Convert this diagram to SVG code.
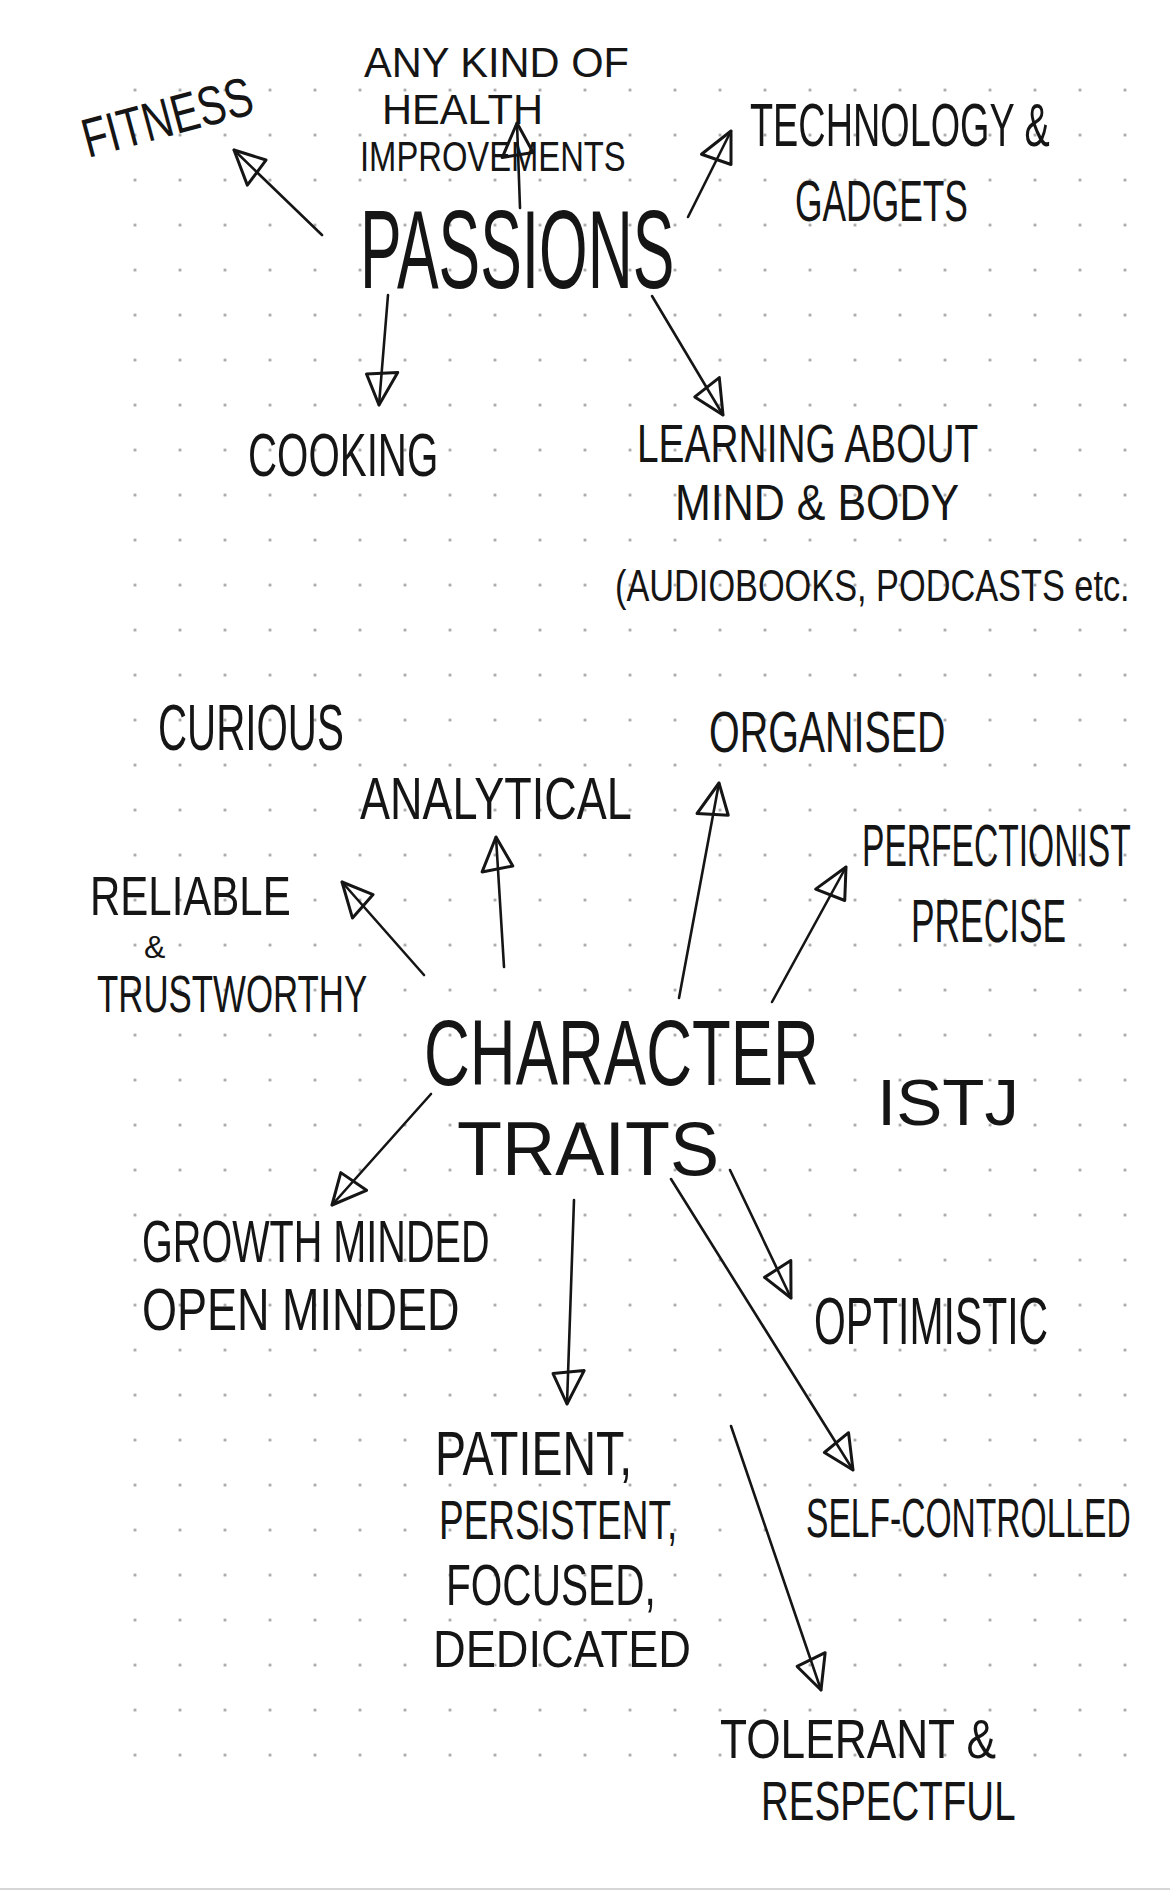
<svg xmlns="http://www.w3.org/2000/svg" width="1170" height="1890" viewBox="0 0 1170 1890">
<style>
text{font-family:"Liberation Sans",Arial,sans-serif;fill:#151515;}
.c line{stroke:#151515;stroke-width:2.6;stroke-linecap:round;marker-end:url(#head);}
</style>
<defs>
<pattern id="dots" x="112.5" y="67.5" width="45" height="45" patternUnits="userSpaceOnUse">
<circle cx="22.5" cy="22.5" r="1.5" fill="#9c9c9c"/>
</pattern>
<marker id="head" markerUnits="userSpaceOnUse" viewBox="-40 -22 44 44" markerWidth="44" markerHeight="44" refX="0" refY="0" orient="auto">
<path d="M0,0 L-34,-16 L-30,15 Z" fill="none" stroke="#151515" stroke-width="3" stroke-linejoin="round"/>
</marker>
</defs>
<rect width="1170" height="1890" fill="#ffffff"/>
<rect x="112.5" y="67.5" width="1035" height="1710" fill="url(#dots)"/>
<line x1="0" y1="1889" x2="1170" y2="1889" stroke="#d6d6d6" stroke-width="2"/>

<g class="c" id="connectors">
<line x1="322" y1="235" x2="234" y2="150"/>
<line x1="520" y1="208" x2="517" y2="123"/>
<line x1="688" y1="217" x2="731" y2="131"/>
<line x1="388" y1="295" x2="379" y2="405"/>
<line x1="652" y1="296" x2="723" y2="415"/>
<line x1="504" y1="967" x2="496" y2="837"/>
<line x1="679" y1="998" x2="719" y2="783"/>
<line x1="772" y1="1002" x2="846" y2="867"/>
<line x1="424" y1="975" x2="342" y2="882"/>
<line x1="431" y1="1094" x2="332" y2="1205"/>
<line x1="574" y1="1200" x2="567" y2="1404"/>
<line x1="730" y1="1170" x2="791" y2="1298"/>
<line x1="671" y1="1179" x2="853" y2="1470"/>
<line x1="731" y1="1426" x2="821" y2="1690"/>
</g>

<g id="passions"><text transform="translate(360,288) scale(0.557,1)" font-size="112">PASSIONS</text></g>
<g id="fitness"><text transform="translate(88,158) rotate(-15) scale(0.75,1)" font-size="55">FITNESS</text></g>
<g id="health">
<text transform="translate(364,77) scale(0.99,1)" font-size="42">ANY KIND OF</text>
<text transform="translate(382,124) scale(0.99,1)" font-size="42">HEALTH</text>
<text transform="translate(360,171) scale(0.78,1)" font-size="42">IMPROVEMENTS</text>
</g>
<g id="technology">
<text transform="translate(750,146) scale(0.61,1)" font-size="62">TECHNOLOGY &amp;</text>
<text transform="translate(795,221) scale(0.61,1)" font-size="58">GADGETS</text>
</g>
<g id="cooking"><text transform="translate(248,476) scale(0.65,1)" font-size="62">COOKING</text></g>
<g id="learning">
<text transform="translate(637,462) scale(0.72,1)" font-size="54">LEARNING ABOUT</text>
<text transform="translate(675,520) scale(0.86,1)" font-size="50">MIND &amp; BODY</text>
<text transform="translate(615,601) scale(0.78,1)" font-size="44">(AUDIOBOOKS, PODCASTS etc.</text>
</g>

<g id="character-traits">
<text transform="translate(424,1085) scale(0.69,1)" font-size="92">CHARACTER</text>
<text transform="translate(457,1175) scale(0.97,1)" font-size="76">TRAITS</text>
</g>
<g id="istj"><text transform="translate(877,1125) scale(1.08,1)" font-size="64">ISTJ</text></g>
<g id="curious"><text transform="translate(158,750) scale(0.62,1)" font-size="65">CURIOUS</text></g>
<g id="organised"><text transform="translate(709,752) scale(0.68,1)" font-size="58">ORGANISED</text></g>
<g id="analytical"><text transform="translate(360,819) scale(0.75,1)" font-size="60">ANALYTICAL</text></g>
<g id="perfectionist">
<text transform="translate(862,866) scale(0.56,1)" font-size="60">PERFECTIONIST</text>
<text transform="translate(911,942) scale(0.57,1)" font-size="62">PRECISE</text>
</g>
<g id="reliable">
<text transform="translate(90,915) scale(0.75,1)" font-size="56">RELIABLE</text>
<text transform="translate(144,958)" font-size="32">&amp;</text>
<text transform="translate(97,1012) scale(0.67,1)" font-size="52">TRUSTWORTHY</text>
</g>
<g id="growth">
<text transform="translate(142,1262) scale(0.66,1)" font-size="60">GROWTH MINDED</text>
<text transform="translate(142,1330) scale(0.75,1)" font-size="60">OPEN MINDED</text>
</g>
<g id="optimistic"><text transform="translate(814,1344) scale(0.62,1)" font-size="66">OPTIMISTIC</text></g>
<g id="patient">
<text transform="translate(435,1475) scale(0.75,1)" font-size="62">PATIENT,</text>
<text transform="translate(439,1539) scale(0.66,1)" font-size="56">PERSISTENT,</text>
<text transform="translate(446,1605) scale(0.7,1)" font-size="58">FOCUSED,</text>
<text transform="translate(433,1667) scale(0.87,1)" font-size="52">DEDICATED</text>
</g>
<g id="self-controlled"><text transform="translate(806,1537) scale(0.6,1)" font-size="56">SELF-CONTROLLED</text></g>
<g id="tolerant">
<text transform="translate(720,1758) scale(0.79,1)" font-size="56">TOLERANT &amp;</text>
<text transform="translate(761,1820) scale(0.7,1)" font-size="55">RESPECTFUL</text>
</g>
</svg>
